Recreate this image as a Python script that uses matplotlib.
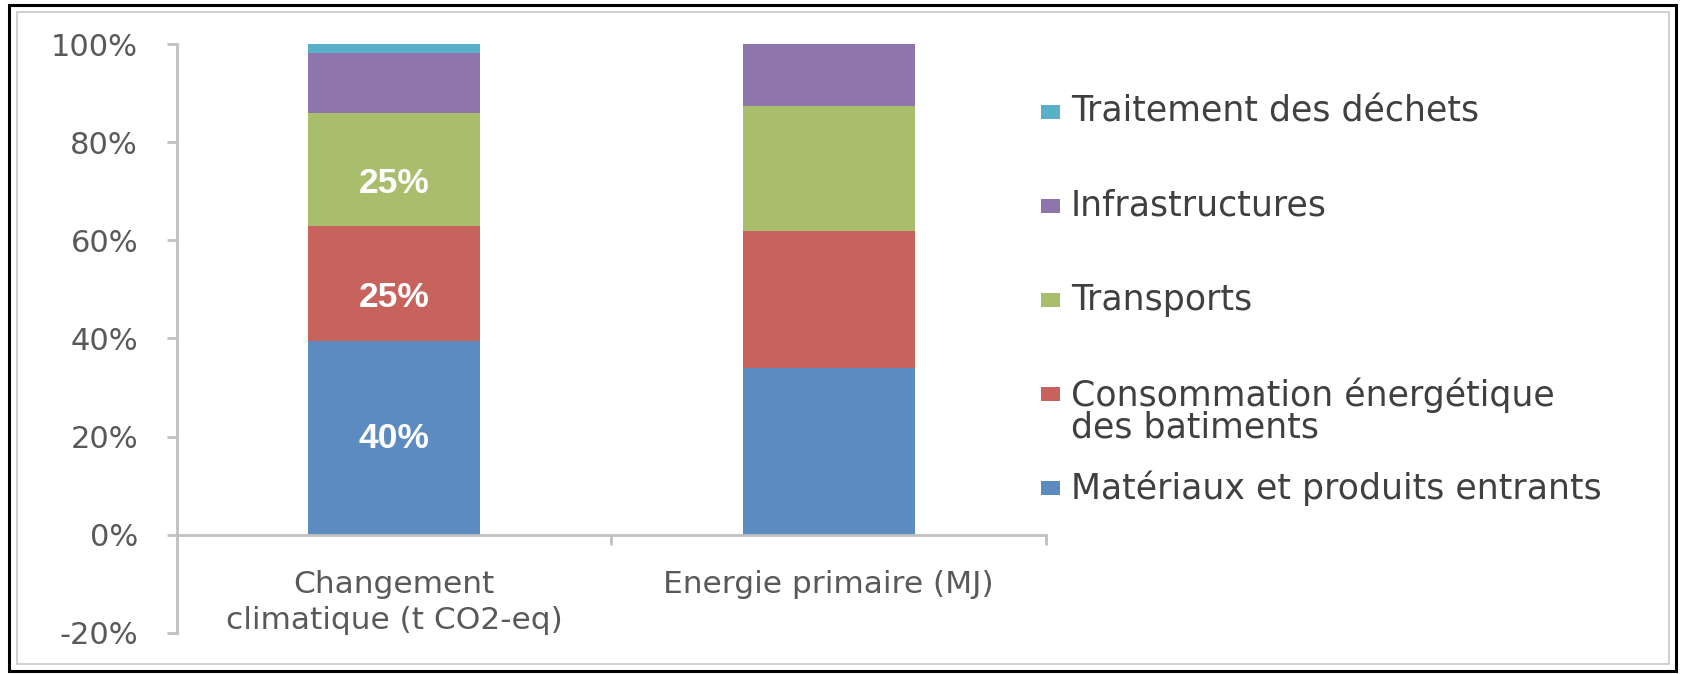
import matplotlib
matplotlib.use("Agg")
import matplotlib.pyplot as plt
import numpy as np
from matplotlib.patches import Rectangle

# data (percent of total)
categories = ["Changement\nclimatique (t CO2-eq)", "Energie primaire (MJ)"]
series = ["Matériaux et produits entrants",
          "Consommation énergétique\ndes batiments",
          "Transports",
          "Infrastructures",
          "Traitement des déchets"]
materiaux = [39.4, 34.0]
consommation = [23.6, 28.0]
transports = [22.9, 25.4]
infrastructures = [12.3, 12.6]
dechets = [1.8, 0.0]
# labels written on the first bar
bar_labels = ["40%", "25%", "25%", "", ""]

colors = ["#5B8BC0", "#C8625C", "#A8BE6C", "#8E76AC", "#5AAFC9"]
W, H = 1683, 674

fig = plt.figure(figsize=(W / 100, H / 100), dpi=100)
ax = fig.add_axes([177 / W, 1 - 633 / H, (1046 - 177) / W, (633 - 44) / H])

values = [materiaux, consommation, transports, infrastructures, dechets]
x = np.arange(len(categories))
bottom = np.zeros(len(categories))
for i, vals in enumerate(values):
    vals = np.array(vals)
    ax.bar(x, vals, 0.395, bottom=bottom, color=colors[i], linewidth=0, zorder=2)
    if bar_labels[i]:
        # labels on the upper segments sit a little below the middle
        ypos = bottom[0] + vals[0] / 2 - (2.8 if bottom[0] > 0 else 0)
        ax.text(x[0], ypos, bar_labels[i], ha="center", va="center",
                color="white", fontsize=25.5, fontweight="bold", family="Liberation Sans", zorder=3)
    bottom += vals

ax.set_xlim(-0.5, len(categories) - 0.5)
ax.set_ylim(-20, 100)
ax.set_yticks(np.arange(-20, 101, 20))
ax.set_yticklabels([f"{v}%" for v in range(-20, 101, 20)])

# major ticks on category boundaries, category names on minor ticks
ax.set_xticks(x + 0.5)
ax.set_xticklabels([])
ax.set_xticks(x, minor=True)
ax.set_xticklabels(categories, minor=True)

for s in ["top", "right"]:
    ax.spines[s].set_visible(False)
ax.spines["bottom"].set_position(("data", 0))
for s in ["left", "bottom"]:
    ax.spines[s].set_color("#C0C0C0")
    ax.spines[s].set_linewidth(2)

ax.tick_params(axis="y", length=7, width=2, color="#C0C0C0", pad=21,
               labelsize=22, labelcolor="#595959")
ax.tick_params(axis="x", which="major", length=7, width=2, color="#C0C0C0", direction="out")
ax.tick_params(axis="x", which="minor", length=0, pad=25, labelsize=22.5, labelcolor="#595959")

fig.canvas.draw()
for lbl in ax.get_xticklabels(minor=True):
    lbl.set_linespacing(1.32)

# legend drawn by hand: markers line up with first text line, equal row step
row_top, row_step = 112, 94
for k, i in enumerate(range(len(series) - 1, -1, -1)):
    yc = row_top + k * row_step
    fig.patches.append(Rectangle((1041 / W, 1 - (yc + 7) / H), 19 / W, 14 / H,
                                 transform=fig.transFigure, color=colors[i], lw=0))
    fig.text(1071 / W, 1 - (yc - 17) / H, series[i], ha="left", va="top",
             fontsize=25, color="#404040", linespacing=0.92)

# picture frame
fig.patches.append(Rectangle((17 / W, 1 - 664 / H), (1669 - 17) / W, (664 - 12) / H,
                             transform=fig.transFigure, fill=False, ec="#C8C8C8", lw=1.2))
fig.patches.append(Rectangle((9 / W, 1 - 671 / H), (1676 - 9) / W, (671 - 5) / H,
                             transform=fig.transFigure, fill=False, ec="black", lw=2.2))

fig.savefig("out.png", dpi=100)
